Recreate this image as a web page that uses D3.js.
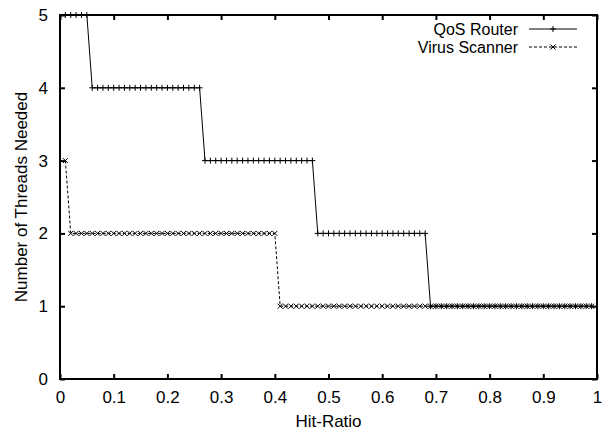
<!DOCTYPE html>
<html>
<head>
<meta charset="utf-8">
<script src="https://cdn.jsdelivr.net/npm/d3@7"></script>
<style>
	body { margin: 0; background: #fff; }
	svg { display: block; font-family: 'Liberation Sans', Arial, sans-serif; }
</style>
</head>
<body>
<svg id="chart" width="608" height="433"></svg>
<script>
// hit ratio sampled every 0.01
const hitRatio = [
	0.01, 0.02, 0.03, 0.04, 0.05, 0.06, 0.07, 0.08, 0.09, 0.10,
	0.11, 0.12, 0.13, 0.14, 0.15, 0.16, 0.17, 0.18, 0.19, 0.20,
	0.21, 0.22, 0.23, 0.24, 0.25, 0.26, 0.27, 0.28, 0.29, 0.30,
	0.31, 0.32, 0.33, 0.34, 0.35, 0.36, 0.37, 0.38, 0.39, 0.40,
	0.41, 0.42, 0.43, 0.44, 0.45, 0.46, 0.47, 0.48, 0.49, 0.50,
	0.51, 0.52, 0.53, 0.54, 0.55, 0.56, 0.57, 0.58, 0.59, 0.60,
	0.61, 0.62, 0.63, 0.64, 0.65, 0.66, 0.67, 0.68, 0.69, 0.70,
	0.71, 0.72, 0.73, 0.74, 0.75, 0.76, 0.77, 0.78, 0.79, 0.80,
	0.81, 0.82, 0.83, 0.84, 0.85, 0.86, 0.87, 0.88, 0.89, 0.90,
	0.91, 0.92, 0.93, 0.94, 0.95, 0.96, 0.97, 0.98, 0.99
]

const qosThreads = [
	5, 5, 5, 5, 5, 4, 4, 4, 4, 4,
	4, 4, 4, 4, 4, 4, 4, 4, 4, 4,
	4, 4, 4, 4, 4, 4, 3, 3, 3, 3,
	3, 3, 3, 3, 3, 3, 3, 3, 3, 3,
	3, 3, 3, 3, 3, 3, 3, 2, 2, 2,
	2, 2, 2, 2, 2, 2, 2, 2, 2, 2,
	2, 2, 2, 2, 2, 2, 2, 2, 1, 1,
	1, 1, 1, 1, 1, 1, 1, 1, 1, 1,
	1, 1, 1, 1, 1, 1, 1, 1, 1, 1,
	1, 1, 1, 1, 1, 1, 1, 1, 1
]

const virusThreads = [
	3, 2, 2, 2, 2, 2, 2, 2, 2, 2,
	2, 2, 2, 2, 2, 2, 2, 2, 2, 2,
	2, 2, 2, 2, 2, 2, 2, 2, 2, 2,
	2, 2, 2, 2, 2, 2, 2, 2, 2, 2,
	1, 1, 1, 1, 1, 1, 1, 1, 1, 1,
	1, 1, 1, 1, 1, 1, 1, 1, 1, 1,
	1, 1, 1, 1, 1, 1, 1, 1, 1, 1,
	1, 1, 1, 1, 1, 1, 1, 1, 1, 1,
	1, 1, 1, 1, 1, 1, 1, 1, 1, 1,
	1, 1, 1, 1, 1, 1, 1, 1, 1
]

const xTicks = [0, 0.1, 0.2, 0.3, 0.4, 0.5, 0.6, 0.7, 0.8, 0.9, 1]
const yTicks = [0, 1, 2, 3, 4, 5]
const seriesNames = ['QoS Router', 'Virus Scanner']

const margin = { top: 15, right: 11, bottom: 54, left: 60 }
const width = 608 - margin.left - margin.right
const height = 433 - margin.top - margin.bottom
const fontSize = 17
const legendFontSize = 16

const svg = d3.select('#chart')
const g = svg
	.append('g')
	.attr('transform', 'translate(' + margin.left + ',' + margin.top + ')')

const x = d3.scaleLinear().domain([0, 1]).range([0, width])
const y = d3.scaleLinear().domain([0, 5]).range([height, 0])

const fmtX = d => (d === 0 || d === 1 ? String(d) : d3.format('.1f')(d))
const fmtY = d3.format('d')

// axes, gnuplot style: ticks point inward and are mirrored
g.append('g')
	.attr('class', 'xAxis')
	.attr('transform', 'translate(0,' + height + ')')
	.call(d3.axisBottom(x).tickValues(xTicks).tickFormat(fmtX).tickSizeInner(-5).tickSizeOuter(0).tickPadding(12))
g.append('g')
	.attr('class', 'xAxisTop')
	.call(d3.axisTop(x).tickValues(xTicks).tickFormat('').tickSizeInner(-5).tickSizeOuter(0))
g.append('g')
	.attr('class', 'yAxis')
	.call(d3.axisLeft(y).tickValues(yTicks).tickFormat(fmtY).tickSizeInner(-5).tickSizeOuter(0).tickPadding(12))
g.append('g')
	.attr('class', 'yAxisRight')
	.attr('transform', 'translate(' + width + ',0)')
	.call(d3.axisRight(y).tickValues(yTicks).tickFormat('').tickSizeInner(-5).tickSizeOuter(0))

g.selectAll('.domain').remove()
g.selectAll('.tick line').attr('stroke', '#000').attr('stroke-width', 2)
g.selectAll('.tick text')
	.attr('fill', '#000')
	.style('font-size', fontSize + 'px')
	.style('font-family', "'Liberation Sans', Arial, sans-serif")

g.append('rect')
	.attr('width', width)
	.attr('height', height)
	.attr('fill', 'none')
	.attr('stroke', '#000')
	.attr('stroke-width', 2)

// axis titles
svg.append('text')
	.attr('x', margin.left + width / 2)
	.attr('y', 427)
	.attr('text-anchor', 'middle')
	.style('font-size', fontSize + 'px')
	.text('Hit-Ratio')

svg.append('text')
	.attr('transform', 'translate(27,' + (margin.top + height / 2) + ') rotate(-90)')
	.attr('text-anchor', 'middle')
	.style('font-size', fontSize + 'px')
	.text('Number of Threads Needed')

const qosData = hitRatio.map((h, i) => ({ h: h, v: qosThreads[i] }))
const virusData = hitRatio.map((h, i) => ({ h: h, v: virusThreads[i] }))

const line = d3
	.line()
	.x(d => x(d.h))
	.y(d => y(d.v))

const plusPath = s => `M${-s},0H${s}M0,${-s}V${s}`
const crossPath = s => `M${-s},${-s}L${s},${s}M${-s},${s}L${s},${-s}`

function drawSeries(data, dash, marker, size) {
	g.append('path')
		.datum(data)
		.attr('d', line)
		.attr('fill', 'none')
		.attr('stroke', '#000')
		.attr('stroke-width', 1)
		.attr('stroke-dasharray', dash)

	g.append('g')
		.selectAll('path')
		.data(data)
		.enter()
		.append('path')
		.attr('transform', d => `translate(${x(d.h)},${y(d.v)})`)
		.attr('d', marker(size))
		.attr('fill', 'none')
		.attr('stroke', '#000')
		.attr('stroke-width', 1)
}

drawSeries(qosData, null, plusPath, 3)
drawSeries(virusData, '3,2', crossPath, 2.5)

// legend (top right, no frame)
const legend = svg.append('g').attr('class', 'legend')
const legendRows = [
	{ name: seriesNames[0], dash: null, marker: plusPath, size: 3 },
	{ name: seriesNames[1], dash: '3,2', marker: crossPath, size: 2.5 }
]

legendRows.forEach((row, i) => {
	const ly = 29 + i * 18
	legend.append('text')
		.attr('x', 518)
		.attr('y', ly + 6)
		.attr('text-anchor', 'end')
		.style('font-size', legendFontSize + 'px')
		.text(row.name)
	legend.append('line')
		.attr('x1', 529)
		.attr('x2', 577)
		.attr('y1', ly)
		.attr('y2', ly)
		.attr('stroke', '#000')
		.attr('stroke-width', 1)
		.attr('stroke-dasharray', row.dash)
	legend.append('path')
		.attr('transform', `translate(553,${ly})`)
		.attr('d', row.marker(row.size))
		.attr('fill', 'none')
		.attr('stroke', '#000')
})
</script>
</body>
</html>
